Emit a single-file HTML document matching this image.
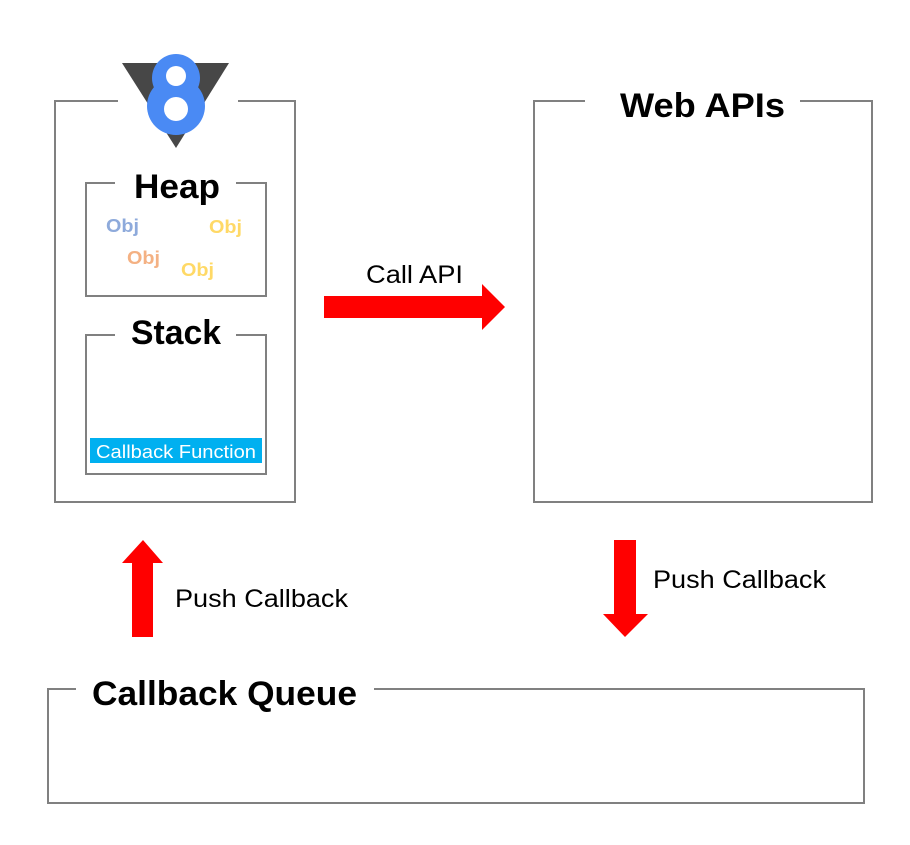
<!DOCTYPE html>
<html><head><meta charset="utf-8"><style>
html,body{margin:0;padding:0;background:#fff}
svg{display:block}
text{font-family:"Liberation Sans","Noto Sans CJK KR",sans-serif}
</style></head><body>
<svg width="910" height="845" viewBox="0 0 910 845" xmlns="http://www.w3.org/2000/svg">
<g fill="none" stroke="#808080" stroke-width="2">
<polyline points="118,101 55,101 55,502 295,502 295,101 238,101"/>
<polyline points="115,183 86,183 86,296 266,296 266,183 236,183"/>
<polyline points="115,335 86,335 86,474 266,474 266,335 236,335"/>
<polyline points="585,101 534,101 534,502 872,502 872,101 800,101"/>
<polyline points="76,689 48,689 48,803 864,803 864,689 374,689"/>
</g>
<polygon points="122,63 229,63 176,148" fill="#474747"/>
<circle cx="176" cy="106" r="29" fill="#4a8af4"/>
<circle cx="176" cy="78" r="24" fill="#4a8af4"/>
<circle cx="176" cy="76" r="10" fill="#fff"/>
<circle cx="176" cy="109" r="12" fill="#fff"/>
<text x="134" y="198" font-size="34" font-weight="bold" textLength="86" lengthAdjust="spacingAndGlyphs">Heap</text>
<text x="131" y="344" font-size="34" font-weight="bold" textLength="90" lengthAdjust="spacingAndGlyphs">Stack</text>
<g font-size="18" font-weight="bold">
<text x="106" y="232" fill="#8eaadb" textLength="33" lengthAdjust="spacingAndGlyphs">Obj</text>
<text x="209" y="233" fill="#ffd966" textLength="33" lengthAdjust="spacingAndGlyphs">Obj</text>
<text x="127" y="264" fill="#f4b183" textLength="33" lengthAdjust="spacingAndGlyphs">Obj</text>
<text x="181" y="276" fill="#ffd966" textLength="33" lengthAdjust="spacingAndGlyphs">Obj</text>
</g>
<rect x="90" y="438" width="172" height="25" fill="#00b0f0"/>
<text x="96" y="458" font-size="18" fill="#fff" textLength="160" lengthAdjust="spacingAndGlyphs">Callback Function</text>
<text x="620" y="117" font-size="34" font-weight="bold" textLength="165" lengthAdjust="spacingAndGlyphs">Web APIs</text>
<text x="92" y="705" font-size="34" font-weight="bold" textLength="265" lengthAdjust="spacingAndGlyphs">Callback Queue</text>
<text x="366" y="283" font-size="25" textLength="97" lengthAdjust="spacingAndGlyphs">Call API</text>
<polygon points="324,296 482,296 482,284 505,307 482,330 482,318 324,318" fill="#f00"/>
<polygon points="132,637 132,563 122,563 143,540 163,563 153,563 153,637" fill="#f00"/>
<text x="175" y="607" font-size="25" textLength="173" lengthAdjust="spacingAndGlyphs">Push Callback</text>
<polygon points="614,540 636,540 636,614 648,614 625,637 603,614 614,614" fill="#f00"/>
<text x="653" y="588" font-size="25" textLength="173" lengthAdjust="spacingAndGlyphs">Push Callback</text>
</svg>
</body></html>
